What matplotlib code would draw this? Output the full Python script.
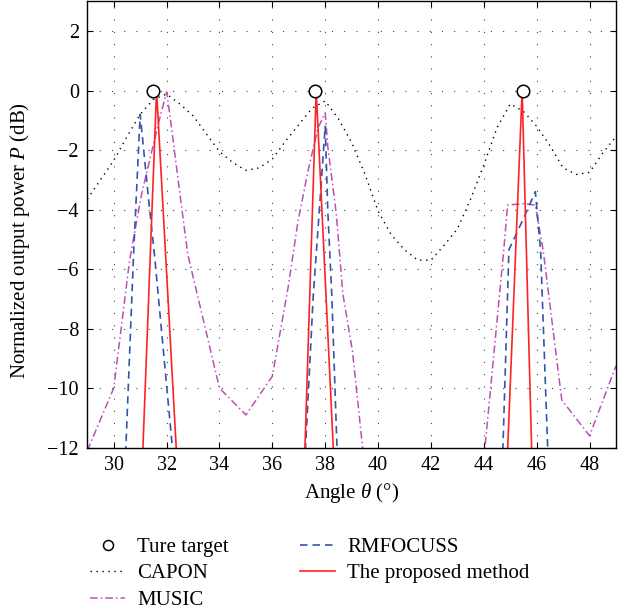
import matplotlib
matplotlib.use("Agg")
import matplotlib.pyplot as plt
import numpy as np

plt.rcParams['font.family'] = ['Liberation Serif', 'DejaVu Serif']
plt.rcParams['mathtext.fontset'] = 'custom'
plt.rcParams['mathtext.rm'] = 'Liberation Serif'
plt.rcParams['mathtext.it'] = 'Liberation Serif:italic'

nan = np.nan

# posizioni vere dei bersagli
target_x = [31.5, 37.6, 45.5]
target_db = [0, 0, 0]

# CAPON
capon_x = [29.0, 29.5, 30.0, 30.5, 31.0, 31.5, 32.0, 32.5, 33.0, 33.5, 34.0,
           34.5, 35.0, 35.5, 36.0, 36.5, 37.0, 37.5, 38.0, 38.5, 39.0, 39.5,
           40.0, 40.5, 41.0, 41.5, 42.0, 42.5, 43.0, 43.5, 44.0, 44.5, 45.0,
           45.5, 46.0, 46.5, 47.0, 47.5, 48.0, 48.5, 49.0]
capon_db = [-3.65, -3.0, -2.35, -1.55, -0.8, -0.3, -0.12, -0.45, -0.85, -1.45, -2.05,
            -2.42, -2.68, -2.6, -2.3, -1.7, -1.15, -0.6, -0.35, -0.95, -1.75, -2.8,
            -4.05, -4.85, -5.35, -5.7, -5.7, -5.2, -4.65, -3.65, -2.5, -1.25, -0.45,
            -0.7, -1.2, -1.85, -2.6, -2.82, -2.75, -2.1, -1.55]

# MUSIC
music_x = [29.0, 30.0, 30.6, 31.05, 31.45, 31.75, 32.0, 32.12, 32.5, 32.8, 34.0,
           35.0, 36.0, 36.6, 36.97, 37.35, 37.73, 38.0, 38.1, 38.42, 38.67, 39.03,
           39.45, 41.75, 44.0, 44.75, 44.9, 45.5, 45.95, 46.25, 46.95, 48.0, 49.0]
music_db = [-12.1, -10.0, -5.7, -3.5, -2.0, -0.9, -0.05, -0.8, -3.45, -5.5, -10.0,
            -10.9, -9.6, -6.6, -4.4, -2.7, -1.25, -0.75, -1.9, -4.15, -6.85, -8.75,
            -12.3, nan, -12.4, -5.4, -3.85, -3.8, -3.85, -5.4, -10.4, -11.6, -9.25]

# RMFOCUSS
rmf_x = [30.45, 30.75, 31.0, 31.3, 31.55, 32.25, 34.5,
         37.25, 37.55, 37.7, 38.0, 38.1, 38.25, 38.45, 41.5,
         44.72, 44.95, 45.5, 45.95, 46.15, 46.42]
rmf_db = [-12.2, -5.5, -0.8, -3.5, -5.6, -12.3, nan,
          -12.1, -6.85, -5.0, -1.2, -4.1, -6.9, -12.1, nan,
          -12.1, -5.35, -4.3, -3.4, -5.4, -12.1]

# metodo proposto
prop_x = [31.1, 31.62, 32.37, 34.5, 37.23, 37.66, 38.31, 41.5, 44.9, 45.45, 45.81]
prop_db = [-12.1, 0.0, -12.1, nan, -12.1, 0.0, -12.1, nan, -12.1, 0.0, -12.1]

xticks = [30, 32, 34, 36, 38, 40, 42, 44, 46, 48]
yticks = [2, 0, -2, -4, -6, -8, -10, -12]

fig = plt.figure(figsize=(6.29, 6.12), dpi=100)
ax = fig.add_axes([0.1388, 0.2685, 0.8405, 0.7295])

ax.plot(target_x, target_db, linestyle='none', marker='o', markersize=9,
        markerfacecolor='white', markeredgecolor='black', markeredgewidth=1.1,
        zorder=5, label='Ture target')
ax.plot(capon_x, capon_db, color='black', linewidth=1.0,
        linestyle=(0, (1, 3.3)), label='CAPON')
ax.plot(music_x, music_db, color='#bf4fb5', linewidth=1.1,
        linestyle=(0, (5, 2, 1, 2)), label='MUSIC')
ax.plot(rmf_x, rmf_db, color='#3355aa', linewidth=1.2,
        linestyle=(0, (4.5, 3)), label='RMFOCUSS')
ax.plot(prop_x, prop_db, color='#ff2222', linewidth=1.2,
        label='The proposed method')

ax.set_xlim(29, 49)
ax.set_ylim(-12, 3)
ax.set_xticks(xticks)
ax.set_yticks(yticks)
ax.grid(True, color='#444444', linewidth=0.8, linestyle=(0, (1, 10)))
ax.tick_params(direction='in', length=4, width=0.8, top=True, right=True,
               labelsize=14.5, pad=6)
for s in ax.spines.values():
    s.set_linewidth(1.0)

ax.set_xlabel(r'Angle $\theta$ (°)', fontsize=15, labelpad=4)
ax.set_ylabel(r'Normalized output power $P$ (dB)', fontsize=15)
ax.yaxis.set_label_coords(-0.104, 0.465)

fig.legend(loc='upper left', bbox_to_anchor=(0.127, 0.139), ncol=2,
           frameon=False, fontsize=15, borderpad=0, handlelength=1.68,
           handletextpad=0.58, labelspacing=0.33, columnspacing=3.4,
           markerscale=0.8)

fig.savefig('out.png', dpi=100)
